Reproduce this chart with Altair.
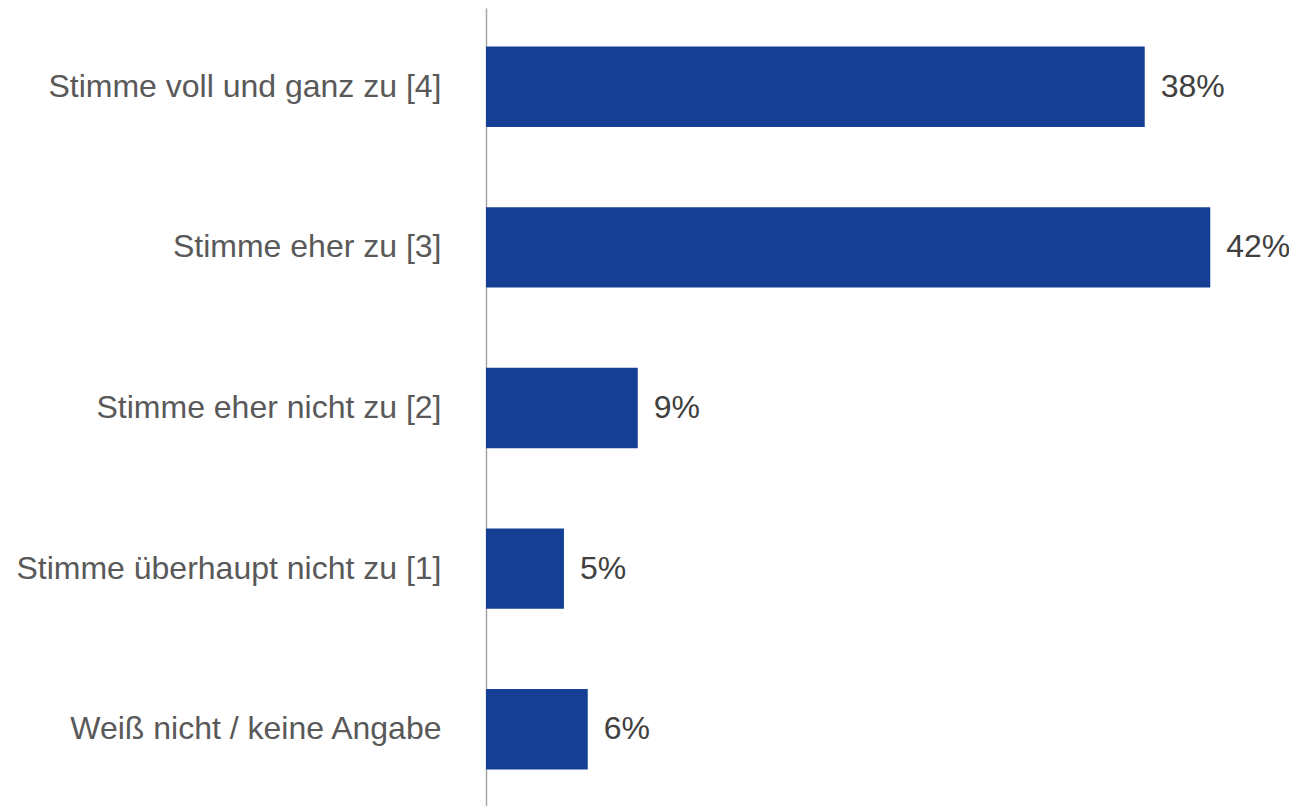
import altair as alt
import pandas as pd

categories = [
    "Stimme voll und ganz zu [4]",
    "Stimme eher zu [3]",
    "Stimme eher nicht zu [2]",
    "Stimme überhaupt nicht zu [1]",
    "Weiß nicht / keine Angabe",
]
values = [38.2, 42.0, 8.8, 4.52, 5.9]

df = pd.DataFrame({"cat": categories, "val": values})

y = alt.Y(
    "cat:N",
    sort=categories,
    title=None,
    scale=alt.Scale(paddingInner=0.5, paddingOuter=0.24),
    axis=alt.Axis(
        ticks=False,
        labelFontSize=32,
        labelFont="Liberation Sans",
        labelColor="#595959",
        labelPadding=45,
        labelLimit=0,
        domainColor="#A6A6A6",
        domainWidth=1.5,
        grid=False,
    ),
)
x = alt.X("val:Q", scale=alt.Scale(domain=[0, 45], nice=False), axis=None)

bars = alt.Chart(df).mark_bar(color="#143F94").encode(x=x, y=y)
labels = alt.Chart(df).transform_calculate(
    lbl="format(datum.val, '.0f') + '%'"
).mark_text(
    align="left", baseline="middle", dx=16, fontSize=32,
    font="Liberation Sans", color="#404040"
).encode(x=x, y=y, text="lbl:N")

chart = (bars + labels).properties(
    width=776,
    height=800,
    background="white",
    autosize=alt.AutoSizeParams(type="none"),
    padding={"left": 478, "top": 0, "right": 27, "bottom": 0},
).configure_view(strokeWidth=0, stroke="transparent")

chart.save("out.html", embed_options={"renderer": "svg", "actions": False})
